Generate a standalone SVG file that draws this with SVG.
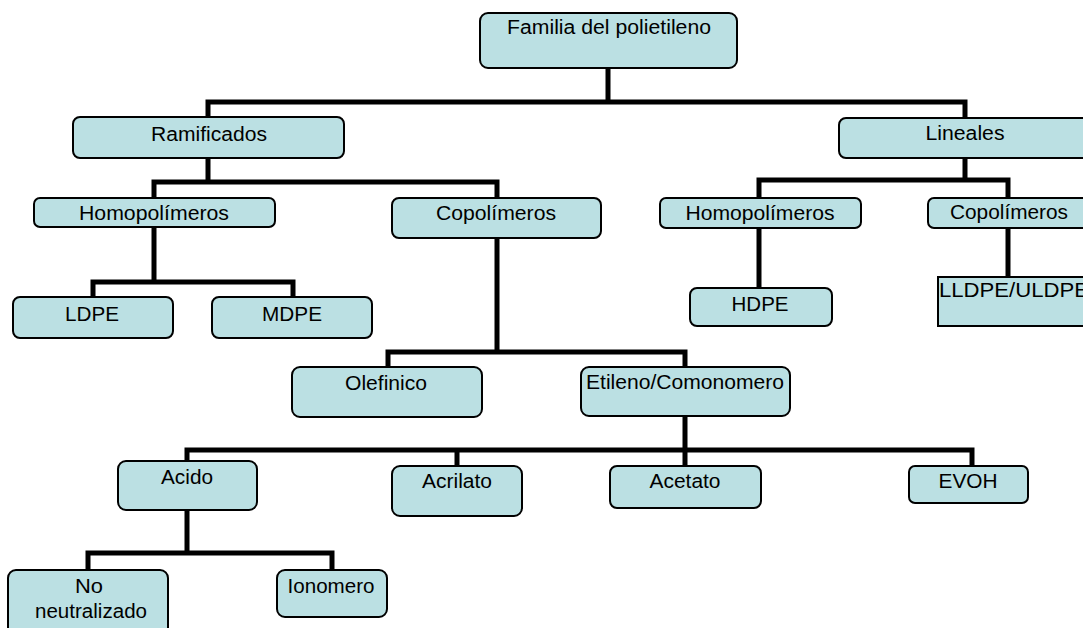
<svg xmlns="http://www.w3.org/2000/svg" width="1083" height="628" viewBox="0 0 1083 628">
<style>
.box{fill:#bbe0e3;stroke:#000;stroke-width:2}
.t{font-family:"Liberation Sans",Arial,sans-serif;font-size:20px;fill:#000;text-anchor:middle}
.ts{font-family:"Liberation Sans",Arial,sans-serif;font-size:20px;fill:#000;text-anchor:start}
.c{fill:none;stroke:#000;stroke-width:5;stroke-linejoin:miter;stroke-linecap:square}
</style>
<rect width="1083" height="628" fill="#fff"/>
<g id="connectors">
<path class="c" d="M608 68V102M208 102H965M208 102V117M965 102V117"/>
<path class="c" d="M208 158V182M154 182H497M154 182V197M497 182V198"/>
<path class="c" d="M965 158V180M759 180H1008M759 180V198M1008 180V198"/>
<path class="c" d="M154 227V282M93 282H293M93 282V297M293 282V297"/>
<path class="c" d="M759 228V288"/>
<path class="c" d="M1008 228V277"/>
<path class="c" d="M497 238V352M388 352H685M388 352V367M685 352V367"/>
<path class="c" d="M685 416V466M187 450H972M187 450V461M457 450V466M972 450V466"/>
<path class="c" d="M187 510V553M88 553H332M88 553V570M332 553V570"/>
</g>
<g id="n-familia"><rect class="box" x="480" y="13" width="257" height="55" rx="8"/><text class="t" x="609" y="34" textLength="204" lengthAdjust="spacingAndGlyphs">Familia del polietileno</text></g>
<g id="n-ramificados"><rect class="box" x="73" y="117" width="271" height="41" rx="7"/><text class="t" x="209" y="141" textLength="116" lengthAdjust="spacingAndGlyphs">Ramificados</text></g>
<g id="n-lineales"><rect class="box" x="839" y="118" width="252" height="40" rx="7"/><text class="t" x="965" y="140" textLength="79" lengthAdjust="spacingAndGlyphs">Lineales</text></g>
<g id="n-homo-r"><rect class="box" x="34" y="198" width="241" height="29" rx="6"/><text class="t" x="154" y="220" textLength="150" lengthAdjust="spacingAndGlyphs">Homopolímeros</text></g>
<g id="n-copo-r"><rect class="box" x="392" y="198" width="209" height="40" rx="7"/><text class="t" x="496" y="220" textLength="120" lengthAdjust="spacingAndGlyphs">Copolímeros</text></g>
<g id="n-homo-l"><rect class="box" x="660" y="198" width="201" height="30" rx="6"/><text class="t" x="760" y="220" textLength="149" lengthAdjust="spacingAndGlyphs">Homopolímeros</text></g>
<g id="n-copo-l"><rect class="box" x="928" y="198" width="162" height="30" rx="6"/><text class="t" x="1009" y="219" textLength="118" lengthAdjust="spacingAndGlyphs">Copolímeros</text></g>
<g id="n-ldpe"><rect class="box" x="13" y="297" width="160" height="41" rx="7"/><text class="t" x="92" y="321" textLength="54" lengthAdjust="spacingAndGlyphs">LDPE</text></g>
<g id="n-mdpe"><rect class="box" x="212" y="297" width="160" height="41" rx="7"/><text class="t" x="292" y="321" textLength="60" lengthAdjust="spacingAndGlyphs">MDPE</text></g>
<g id="n-hdpe"><rect class="box" x="690" y="288" width="142" height="38" rx="7"/><text class="t" x="760" y="311" textLength="57" lengthAdjust="spacingAndGlyphs">HDPE</text></g>
<g id="n-lldpe"><rect class="box" x="938" y="277" width="160" height="49"/><text class="ts" x="939" y="297" textLength="150" lengthAdjust="spacingAndGlyphs">LLDPE/ULDPE</text></g>
<g id="n-olefinico"><rect class="box" x="292" y="367" width="190" height="50" rx="8"/><text class="t" x="386" y="390" textLength="82" lengthAdjust="spacingAndGlyphs">Olefinico</text></g>
<g id="n-etileno"><rect class="box" x="581" y="367" width="209" height="49" rx="8"/><text class="t" x="685" y="389" textLength="198" lengthAdjust="spacingAndGlyphs">Etileno/Comonomero</text></g>
<g id="n-acido"><rect class="box" x="118" y="461" width="139" height="49" rx="8"/><text class="t" x="187" y="484" textLength="52" lengthAdjust="spacingAndGlyphs">Acido</text></g>
<g id="n-acrilato"><rect class="box" x="392" y="466" width="130" height="50" rx="8"/><text class="t" x="457" y="488" textLength="70" lengthAdjust="spacingAndGlyphs">Acrilato</text></g>
<g id="n-acetato"><rect class="box" x="610" y="466" width="151" height="42" rx="7"/><text class="t" x="685" y="488" textLength="71" lengthAdjust="spacingAndGlyphs">Acetato</text></g>
<g id="n-evoh"><rect class="box" x="909" y="466" width="119" height="37" rx="6"/><text class="t" x="968" y="488" textLength="59" lengthAdjust="spacingAndGlyphs">EVOH</text></g>
<g id="n-noneut"><rect class="box" x="8" y="570" width="160" height="70" rx="8"/><text class="t" x="89" y="593" textLength="28" lengthAdjust="spacingAndGlyphs">No</text><text class="t" x="91" y="618" textLength="112" lengthAdjust="spacingAndGlyphs">neutralizado</text></g>
<g id="n-ionomero"><rect class="box" x="277" y="570" width="110" height="47" rx="8"/><text class="t" x="331" y="593" textLength="87" lengthAdjust="spacingAndGlyphs">Ionomero</text></g>
</svg>
